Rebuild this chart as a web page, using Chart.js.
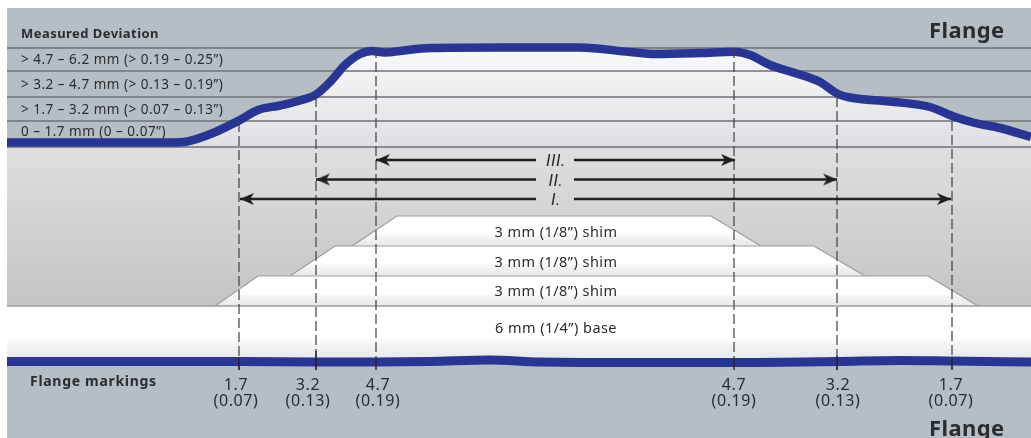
<!DOCTYPE html>
<html>
<head>
<meta charset="utf-8">
<title>Flange markings</title>
<script src="https://cdn.jsdelivr.net/npm/chart.js@4/dist/chart.umd.min.js"></script>
<style>
	html, body { margin: 0; padding: 0; background: #fff; }
	canvas { display: block; }
</style>
</head>
<body>
<canvas id="chart" width="1031" height="438"></canvas>
<script>
// Measured profile along the flange (top curve) and flange edge (bottom curve)
const profileX = [7, 100, 170, 187, 213, 240, 258, 280, 300, 316, 330, 345, 360, 372, 385, 400, 430, 500, 580, 630, 655, 700, 734, 750, 770, 795, 820, 838, 850, 890, 930, 955, 975, 1000, 1031];
const profileY = [142.5, 142.5, 142.5, 141.5, 133, 120, 110, 105.5, 100.5, 94.5, 82, 65, 54, 51, 52.5, 51, 48, 47.5, 47.5, 52, 54, 53, 51.7, 55, 65, 73, 82, 94, 97.5, 101.5, 107, 117, 123, 128, 137];
const edgeX = [7, 100, 239, 316, 376, 430, 490, 540, 640, 734, 837, 900, 950, 1031];
const edgeY = [361.5, 361.5, 361.5, 362, 362, 361.5, 360, 362, 362.5, 362.5, 361.5, 360.5, 361, 362];

// Deviation bands
const bandLines = [48, 71, 97, 121, 147];
const bandLabels = ["> 4.7 – 6.2 mm (> 0.19 – 0.25”)", "> 3.2 – 4.7 mm (> 0.13 – 0.19”)", "> 1.7 – 3.2 mm (> 0.07 – 0.13”)", "0 – 1.7 mm (0 – 0.07”)"];
const bandLabelY = [60, 85, 110, 132];

// Shims, top one first
const shimX = [[352, 397, 711, 761], [290, 335, 814, 865], [215, 258, 928, 978]];
const shimTop = [216, 246, 276];
const shimBottom = [246, 276, 306];
const shimLabels = ["3 mm (1/8”) shim", "3 mm (1/8”) shim", "3 mm (1/8”) shim"];
const shimLabelY = [233, 263, 292];

// Marking positions
const markX = [239, 316, 376, 734, 837, 952];
const markTop = [122, 97, 48, 48, 97, 121];
const markSolidFrom = [358, 351, 358, 358, 356, 358];
const markLabels = ["1.7", "3.2", "4.7", "4.7", "3.2", "1.7"];
const markInches = ["(0.07)", "(0.13)", "(0.19)", "(0.19)", "(0.13)", "(0.07)"];
const markLabelX = [236, 308, 378, 734, 838, 951];

// Zones
const zoneLabels = ["III.", "II.", "I."];
const zoneLabelY = [162, 182, 201];
const zoneY = [160, 179.5, 199];
const zoneLeft = [376, 316, 240];
const zoneRight = [735, 837, 951];
const zoneGap = [536, 574];

const textColor = "#2b2c2e";
const sans = "'Noto Sans'";

function zip(xs, ys) {
	return xs.map((x, i) => ({x: x, y: ys[i]}));
}

function gradient(y0, y1, stops) {
	return function(context) {
		const chart = context.chart;
		if (!chart.chartArea) return stops[0][1];
		const scale = chart.scales.y;
		const g = chart.ctx.createLinearGradient(0, scale.getPixelForValue(y0), 0, scale.getPixelForValue(y1));
		stops.forEach(s => g.addColorStop(s[0], s[1]));
		return g;
	};
}

// arrow head with its tip in the middle of the image, so the point sits on the tip
function arrowHead() {
	const c = document.createElement("canvas");
	c.width = 30;
	c.height = 14;
	const g = c.getContext("2d");
	g.fillStyle = "#231f20";
	g.beginPath();
	g.moveTo(15, 7);
	g.lineTo(29, 1);
	g.lineTo(25, 7);
	g.lineTo(29, 13);
	g.closePath();
	g.fill();
	return c;
}
const arrow = arrowHead();

const datasets = [];
function add(ds) {
	datasets.push(Object.assign({
		pointRadius: 0,
		borderWidth: 0,
		borderColor: "transparent",
		fill: false,
		order: -datasets.length
	}, ds));
}

// backgrounds
add({data: zip([7, 1031], [8, 8]), fill: {value: 438}, backgroundColor: "#b6bec5"});
add({data: zip([7, 1031], [147, 147]), fill: {value: 306}, backgroundColor: gradient(147, 306, [[0, "#dddfe1"], [1, "#c3c4c6"]])});
add({
	data: zip(profileX, profileY),
	cubicInterpolationMode: "monotone",
	fill: {value: 147},
	backgroundColor: gradient(48, 147, [[0, "#f8f9fa"], [1, "#dfe0e3"]])
});

// shims
shimX.forEach((xs, i) => {
	const top = shimTop[i], bottom = shimBottom[i];
	add({
		data: zip(xs, [bottom, top, top, bottom]),
		fill: {value: bottom},
		borderWidth: 1.2,
		borderColor: "#9c9da0",
		backgroundColor: gradient(top, bottom, [[0, "#ffffff"], [0.55, "#ffffff"], [0.75, "#f0f1f2"], [1, "#e8e9eb"]])
	});
});
add({
	data: zip([7, 1031], [306, 306]),
	fill: {value: 362},
	borderWidth: 1.5,
	borderColor: "#9c9da2",
	backgroundColor: gradient(306, 358, [[0, "#ffffff"], [0.6, "#ffffff"], [0.8, "#f0f1f2"], [1, "#e8e9eb"]])
});

// band lines
bandLines.forEach(y => {
	add({data: zip([7, 1031], [y, y]), borderWidth: 1.3, borderColor: "#6f7174"});
});

// curves
add({data: zip(profileX, profileY), cubicInterpolationMode: "monotone", borderWidth: 8.5, borderColor: "#283593"});
add({data: zip(edgeX, edgeY), cubicInterpolationMode: "monotone", borderWidth: 9, borderColor: "#283593"});

// dashed marks and their solid ends
markX.forEach((x, i) => {
	add({data: zip([x, x], [markTop[i], 370]), borderWidth: 1.2, borderColor: "#3f4043", borderDash: [10, 4]});
	add({data: zip([x, x], [markSolidFrom[i], 370]), borderWidth: 1.3, borderColor: "#231f20"});
});

// zone arrows
zoneY.forEach((y, i) => {
	add({
		data: zip([zoneLeft[i], zoneGap[0]], [y, y]),
		borderWidth: 2.4,
		borderColor: "#231f20",
		pointStyle: arrow,
		pointRadius: [8, 0],
		pointRotation: 0
	});
	add({
		data: zip([zoneRight[i], zoneGap[1]], [y, y]),
		borderWidth: 2.4,
		borderColor: "#231f20",
		pointStyle: arrow,
		pointRadius: [8, 0],
		pointRotation: 180
	});
});

// every label in data units: text, x, y, font, align, letter spacing
const labels = [];
labels.push(["Measured Deviation", 21, 34, "bold 13px " + sans, "left", "0.45px"]);
labels.push(["Flange", 929, 32, "bold 22px " + sans, "left", "0.4px"]);
labels.push(["Flange", 929, 430, "bold 22px " + sans, "left", "0.4px"]);
labels.push(["Flange markings", 30, 382, "bold 14px " + sans, "left", "0.7px"]);
bandLabels.forEach((t, i) => labels.push([t, 21, bandLabelY[i], "13.5px " + sans, "left", "0.5px"]));
shimLabels.forEach((t, i) => labels.push([t, 556, shimLabelY[i], "14.5px " + sans, "center", "0.45px"]));
labels.push(["6 mm (1/4”) base", 556, 329, "14.5px " + sans, "center", "0.45px"]);
zoneLabels.forEach((t, i) => labels.push([t, 556, zoneLabelY[i], "italic 17px Roboto", "center", "0.5px"]));
markLabels.forEach((t, i) => {
	labels.push([t, markLabelX[i], 385, "16px " + sans, "center", "0.6px"]);
	labels.push([markInches[i], markLabelX[i], 401, "16px " + sans, "center", "0.6px"]);
});

const textPlugin = {
	id: "flangeText",
	afterDatasetsDraw(chart) {
		const ctx = chart.ctx;
		ctx.save();
		ctx.fillStyle = textColor;
		ctx.textBaseline = "middle";
		labels.forEach(l => {
			ctx.font = l[3];
			ctx.textAlign = l[4];
			ctx.letterSpacing = l[5];
			ctx.fillText(l[0], chart.scales.x.getPixelForValue(l[1]), chart.scales.y.getPixelForValue(l[2]));
		});
		ctx.restore();
	}
};

new Chart(document.getElementById("chart"), {
	type: "line",
	data: {datasets: datasets},
	plugins: [textPlugin],
	options: {
		responsive: false,
		animation: false,
		events: [],
		layout: {padding: 0, autoPadding: false},
		plugins: {legend: {display: false}, tooltip: {enabled: false}},
		scales: {
			x: {type: "linear", min: 0, max: 1031, display: false},
			y: {type: "linear", min: 0, max: 438, reverse: true, display: false}
		}
	}
});
</script>
</body>
</html>
